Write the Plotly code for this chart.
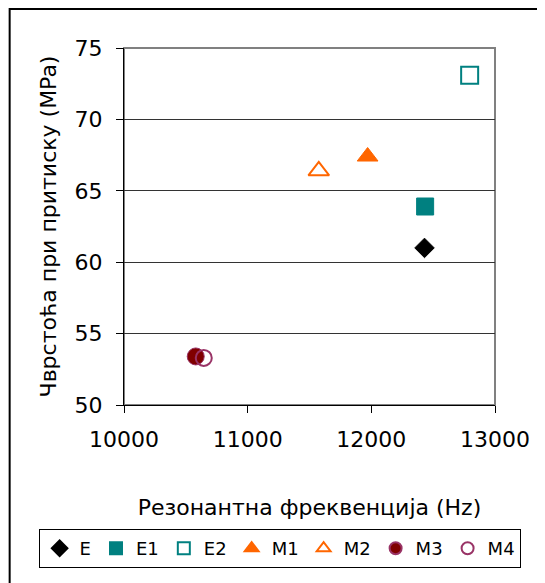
import plotly.graph_objects as go

series_names = ["E", "E1", "E2", "M1", "M2", "M3", "M4"]
freq_hz = [12430, 12435, 12795, 11970, 11575, 10580, 10645]
strength_mpa = [61.0, 63.9, 73.1, 67.4, 66.4, 53.4, 53.3]
x_ticks = [10000, 11000, 12000, 13000]
x_tick_text = ["10000", "11000", "12000", "13000"]
y_ticks = [50, 55, 60, 65, 70, 75]

symbols = ["diamond", "square", "square-open", "triangle-up", "triangle-up-open", "circle", "circle-open"]
colors = ["#000000", "#008080", "#008080", "#FF6600", "#FF6600", "#800000", "#993366"]
line_colors = ["#000000", "#008080", "#008080", "#FF6600", "#FF6600", "#993366", "#993366"]
sizes = [15, 17, 17, 18, 18, 17, 16]

FONT = "DejaVu Sans, Arial, sans-serif"

fig = go.Figure()
for n, x, y, s, c, lc, sz in zip(series_names, freq_hz, strength_mpa, symbols, colors, line_colors, sizes):
    fig.add_trace(go.Scatter(
        x=[x], y=[y], mode="markers", name=n,
        marker=dict(symbol=s, color=c, size=sz,
                    line=dict(color=lc, width=2 if "open" in s else 1)),
    ))

# page has an 8px body margin; figure coordinates = page - 8
W, H = 537, 575
L, T = 115.5, 40
R = W - 487
B = H - 397
pw, ph = W - L - R, H - T - B


def px(xp):
    return (xp - L) / pw


def py(yp):
    return (H - B - yp) / ph


fig.update_layout(
    width=W, height=H,
    margin=dict(l=L, r=R, t=T, b=B, autoexpand=False),
    paper_bgcolor="white", plot_bgcolor="white",
    font=dict(family=FONT, size=22, color="black"),
    showlegend=True,
    legend=dict(orientation="h", x=px(30), xanchor="left", y=py(521), yanchor="top",
                bordercolor="black", borderwidth=1, font=dict(size=18),
                itemsizing="constant", itemwidth=30, tracegroupgap=0,
                bgcolor="white"),
    xaxis=dict(range=[10000, 13000], tickvals=x_ticks, ticktext=x_tick_text,
               showgrid=False, zeroline=False, showline=True, linecolor="black", linewidth=1,
               ticks="outside", ticklen=7, tickcolor="black", ticklabelstandoff=8,
               automargin=False,
               title=dict(text="Резонантна фреквенција (Hz)", standoff=48, font=dict(size=22))),
    yaxis=dict(range=[50, 75], tickvals=y_ticks,
               showgrid=True, gridcolor="#333333", gridwidth=1, zeroline=False,
               showline=True, linecolor="black", linewidth=1,
               ticks="outside", ticklen=7, tickcolor="black", ticklabelstandoff=9,
               automargin=False,
               title=dict(text="Чврстоћа при притиску (MPa)", standoff=11, font=dict(size=22))),
    shapes=[
        dict(type="rect", xref="x domain", yref="y domain", x0=0, x1=1, y0=0, y1=1,
             line=dict(color="#808080", width=2), layer="below"),
        dict(type="rect", xref="paper", yref="paper", x0=px(1), x1=px(600), y0=py(1), y1=py(640),
             line=dict(color="black", width=2), layer="above"),
    ],
)

fig.write_html("out.html")
